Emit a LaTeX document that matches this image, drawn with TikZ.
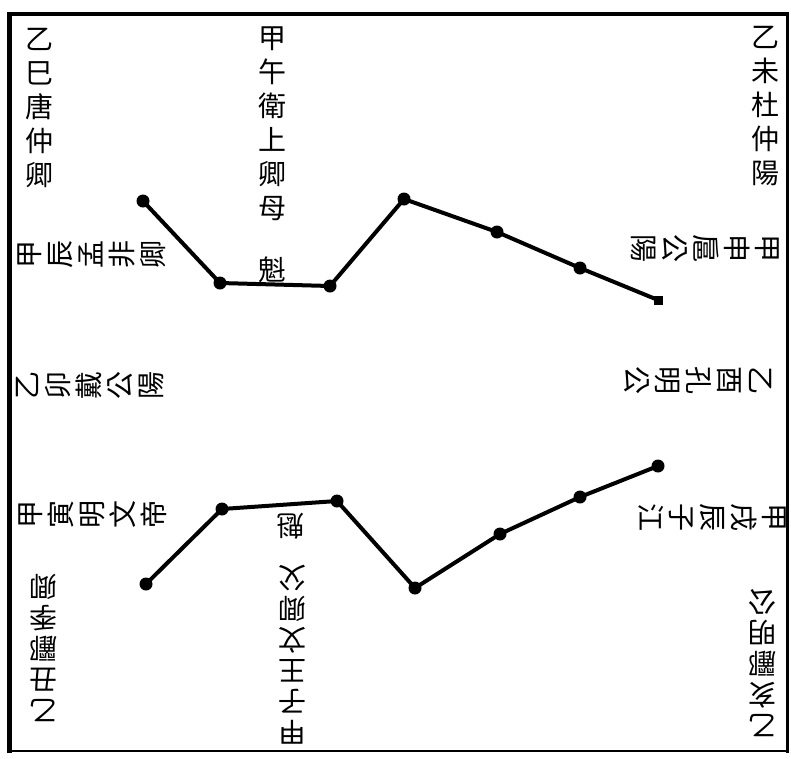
\documentclass[tikz,border=0pt]{standalone}
\usepackage{fontspec}
\newfontfamily\cjk{Noto Sans CJK TC}
\begin{document}
\begin{tikzpicture}[x=1pt,y=-1pt,
  vtext/.style={font=\cjk\fontsize{28}{31}\selectfont, align=center, inner sep=0pt},
  vtall/.style={font=\cjk\fontsize{28}{34}\selectfont, align=center, inner sep=0pt},
  dot/.style={circle, fill=black, inner sep=0pt, minimum size=13pt},
  sq/.style={rectangle, fill=black, inner sep=0pt, minimum size=9pt},
  curve/.style={line width=4pt, line join=round, line cap=round}]
\useasboundingbox (0,0) rectangle (791,758);
\fill[white] (0,0) rectangle (791,758);
% frame
\draw[line width=5pt] (9,12) -- (9,753);
\draw[line width=4pt] (7,14) -- (789,14);
\draw[line width=3pt] (787,12) -- (787,753);
\draw[line width=2pt] (7,751) -- (789,751);
% top texts
\node[vtall] (tl) at (39,108) {乙\\巳\\唐\\仲\\卿};
\node[vtall] (tc) at (272,124) {甲\\午\\衛\\上\\卿\\母};
\node[vtext] (tk) at (272,270) {魁};
\node[vtall] (tr) at (765,106) {乙\\未\\杜\\仲\\陽};
% left texts
\node[vtext, rotate=90] (l1) at (92,254) {甲\\辰\\孟\\非\\卿};
\node[vtext, rotate=90] (l2) at (90,385) {乙\\卯\\戴\\公\\陽};
\node[vtext, rotate=90] (l3) at (93,514) {甲\\寅\\明\\文\\帝};
% right texts
\node[vtext, rotate=-90] (r1) at (705,248) {甲\\申\\扈\\公\\陽};
\node[vtext, rotate=-90] (r2) at (698,380) {乙\\酉\\孔\\明\\公};
\node[vtext, rotate=-90] (r3) at (712,517) {甲\\戌\\辰\\子\\江};
% bottom texts
\node[vtext, rotate=180] (bl) at (43,648) {乙\\丑\\酈\\季\\卿};
\node[vtext, rotate=180] (bk) at (290,526) {魁};
\node[vtext, rotate=180] (bc) at (292,655) {甲\\子\\王\\文\\卿\\父};
\node[vtext, rotate=180] (br) at (762,663) {乙\\亥\\酈\\明\\公};
% upper line
\node[dot] (a1) at (143,201) {};
\node[dot] (a2) at (220,283) {};
\node[dot] (a3) at (330,286) {};
\node[dot] (a4) at (404,199) {};
\node[dot] (a5) at (497,232) {};
\node[dot] (a6) at (580,268) {};
\node[sq]  (a7) at (658,300) {};
\draw[curve] (a1.center) -- (a2.center) -- (a3.center) -- (a4.center) -- (a5.center) -- (a6.center) -- (a7.center);
% lower line
\node[dot] (b1) at (146,584) {};
\node[dot] (b2) at (222,509) {};
\node[dot] (b3) at (337,501) {};
\node[dot] (b4) at (415,588) {};
\node[dot] (b5) at (500,534) {};
\node[dot] (b6) at (580,497) {};
\node[dot] (b7) at (658,466) {};
\draw[curve] (b1.center) -- (b2.center) -- (b3.center) -- (b4.center) -- (b5.center) -- (b6.center) -- (b7.center);
\end{tikzpicture}
\end{document}
